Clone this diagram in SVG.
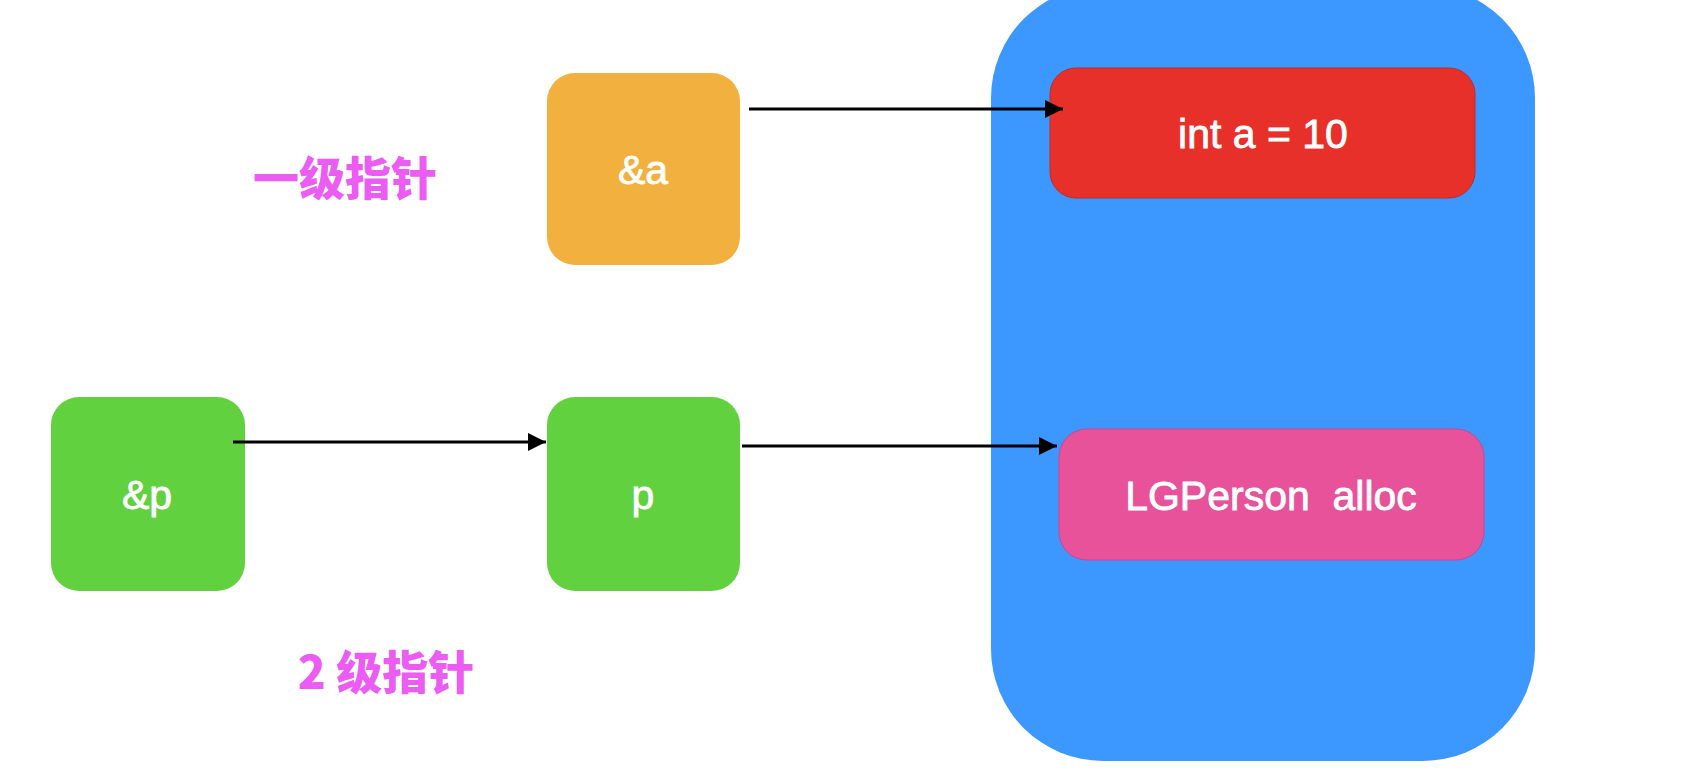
<svg xmlns="http://www.w3.org/2000/svg" width="1698" height="768" viewBox="0 0 1698 768">
  <style>
    .lbl { font-family: "Liberation Sans", Arial, sans-serif; fill: #ffffff; stroke: #ffffff; stroke-width: 0.8; text-anchor: middle; }
    .cn { font-family: "Noto Sans CJK SC", "Noto Sans", sans-serif; font-weight: 900; fill: #ea5cf2; font-size: 46px; text-anchor: middle; }
    .conn { stroke: #000000; stroke-width: 3; fill: none; marker-end: url(#arrow); }
  </style>
  <defs>
    <marker id="arrow" markerWidth="6" markerHeight="6" refX="6" refY="3" orient="auto" markerUnits="strokeWidth">
      <path d="M0,0 L6,3 L0,6 Z" fill="#000000"/>
    </marker>
  </defs>
  <rect width="1698" height="768" fill="#ffffff"/>

  <g id="memory">
    <rect x="991" y="-14" width="544" height="775" rx="112" ry="112" fill="#3c97fe"/>
  </g>

  <g id="label-level1">
    <text class="cn" x="345" y="195">一级指针</text>
  </g>

  <g id="label-level2">
    <text class="cn" x="386" y="689">2 级指针</text>
  </g>

  <g id="node-addr-a">
    <rect x="547" y="73" width="193" height="192" rx="28" fill="#f2b13e"/>
    <text class="lbl" x="643" y="184" font-size="41">&amp;a</text>
  </g>

  <g id="node-int-a">
    <rect x="1050" y="68" width="425" height="130" rx="26" fill="#e8302a" stroke="#c02a2a" stroke-width="1"/>
    <text class="lbl" x="1263" y="148" font-size="41">int a = 10</text>
  </g>

  <g id="node-addr-p">
    <rect x="51" y="397" width="194" height="194" rx="28" fill="#62d140"/>
    <text class="lbl" x="147" y="509" font-size="41">&amp;p</text>
  </g>

  <g id="node-p">
    <rect x="547" y="397" width="193" height="194" rx="28" fill="#62d140"/>
    <text class="lbl" x="643" y="509" font-size="41">p</text>
  </g>

  <g id="node-person">
    <rect x="1059" y="429" width="425" height="131" rx="28" fill="#e8529a" stroke="#c9488a" stroke-width="1"/>
    <text class="lbl" x="1271" y="510" font-size="41" xml:space="preserve">LGPerson  alloc</text>
  </g>

  <g id="connectors">
    <line class="conn" x1="749" y1="109" x2="1063" y2="109"/>
    <line class="conn" x1="233" y1="442" x2="546" y2="442"/>
    <line class="conn" x1="742" y1="446" x2="1057" y2="446"/>
  </g>
</svg>
